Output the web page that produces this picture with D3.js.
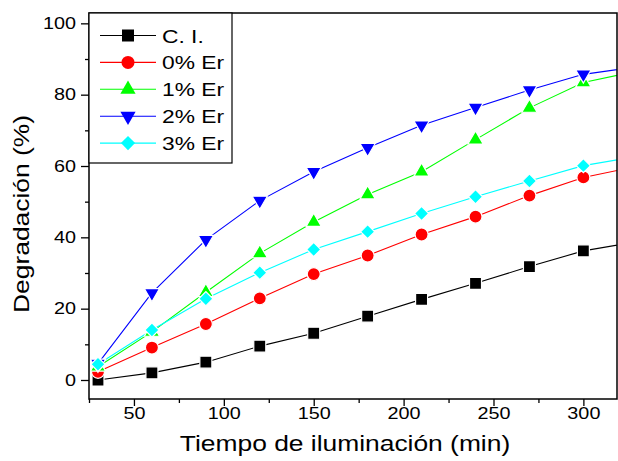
<!DOCTYPE html>
<html>
<head>
<meta charset="utf-8">
<script src="https://cdn.jsdelivr.net/npm/d3@7/dist/d3.min.js"></script>
<style>
  html, body { margin: 0; padding: 0; background: #fff; }
  svg { display: block; font-family: "Liberation Sans", Arial, sans-serif; }
</style>
</head>
<body>
<svg id="chart" width="618" height="461"></svg>
<script>
// Illumination time (min); the last sample lies just past the visible axis range
const tiempo = [30, 60, 90, 120, 150, 180, 210, 240, 270, 300, 330];

// Degradation (%) for each catalyst
const ci    = [0.0, 2.0, 5.0, 9.5, 13.1, 17.9, 22.6, 27.1, 31.8, 36.2, 38.8];
const er0   = [2.3, 9.1, 15.7, 22.9, 29.7, 34.9, 40.8, 45.8, 51.7, 56.8, 59.9];
const er1   = [3.7, 13.5, 24.6, 35.5, 44.3, 52.0, 58.4, 67.4, 76.3, 83.4, 86.6];
const er2   = [4.6, 24.4, 39.3, 50.3, 58.4, 65.1, 71.4, 76.4, 81.3, 85.7, 87.8];
const er3   = [4.4, 14.0, 22.8, 30.1, 36.6, 41.6, 46.7, 51.4, 55.8, 60.1, 62.7];

const seriesNames = ["C. I.", "0% Er", "1% Er", "2% Er", "3% Er"];
const xTicks = [50, 100, 150, 200, 250, 300];
const yTicks = [0, 20, 40, 60, 80, 100];

const series = [
  { name: seriesNames[0], values: ci,  color: "#000000", symbol: d3.symbolSquare,   size: 144, rot: 0 },
  { name: seriesNames[1], values: er0, color: "#ff0000", symbol: d3.symbolCircle,   size: 133, rot: 0 },
  { name: seriesNames[2], values: er1, color: "#00ff00", symbol: d3.symbolTriangle, size: 100, rot: 0 },
  { name: seriesNames[3], values: er2, color: "#0000ff", symbol: d3.symbolTriangle, size: 100, rot: 180 },
  { name: seriesNames[4], values: er3, color: "#00ffff", symbol: d3.symbolSquare,   size: 100, rot: 45 }
];

// Text in this figure is set in a horizontally widened sans face
const WIDE = 1.2;

const plot = { left: 89, right: 617, top: 13, bottom: 399 };

const x = d3.scaleLinear().domain([25, 318.7]).range([plot.left, plot.right]);
const y = d3.scaleLinear().domain([-5.33, 102.9]).range([plot.bottom, plot.top]);

const svg = d3.select("#chart");

svg.append("defs").append("clipPath").attr("id", "plotClip")
  .append("rect")
  .attr("x", plot.left).attr("y", plot.top)
  .attr("width", plot.right - plot.left).attr("height", plot.bottom - plot.top);

// Axes: major ticks with labels, minor ticks between them
const xMajor = d3.axisBottom(x).tickValues(xTicks).tickSize(7).tickSizeOuter(0).tickPadding(1);
const xMinor = d3.axisBottom(x).tickValues([25, 75, 125, 175, 225, 275]).tickSize(4).tickSizeOuter(0).tickFormat("");
const yMajor = d3.axisLeft(y).tickValues(yTicks).tickSize(8).tickSizeOuter(0).tickPadding(5);
const yMinor = d3.axisLeft(y).tickValues([10, 30, 50, 70, 90]).tickSize(4).tickSizeOuter(0).tickFormat("");

function styleAxis(g) {
  g.select(".domain").remove();
  g.selectAll("line").attr("stroke", "#000").attr("stroke-width", 1.3);
  g.selectAll("text").attr("fill", "#000").attr("font-size", 16.5)
    .attr("font-family", "'Liberation Sans', Arial, sans-serif");
}

svg.append("g").attr("transform", `translate(0,${plot.bottom})`).call(xMajor).call(styleAxis)
  .selectAll("text")
  .attr("transform", `scale(${WIDE},1)`);
svg.append("g").attr("transform", `translate(0,${plot.bottom})`).call(xMinor).call(styleAxis);
svg.append("g").attr("transform", `translate(${plot.left},0)`).call(yMajor).call(styleAxis)
  .selectAll("text")
  .attr("transform", function () {
    const tx = +d3.select(this).attr("x");
    return `translate(${tx},0) scale(${WIDE},1)`;
  })
  .attr("x", 0);
svg.append("g").attr("transform", `translate(${plot.left},0)`).call(yMinor).call(styleAxis);

// Data lines and markers
const lineGen = d3.line().x((d, i) => x(tiempo[i])).y(d => y(d));
const dataLayer = svg.append("g").attr("clip-path", "url(#plotClip)");

series.forEach(s => {
  dataLayer.append("path")
    .attr("d", lineGen(s.values))
    .attr("fill", "none")
    .attr("stroke", s.color)
    .attr("stroke-width", 1.1);
});

series.forEach(s => {
  const sym = d3.symbol().type(s.symbol).size(s.size);
  dataLayer.selectAll(null)
    .data(s.values)
    .join("path")
    .attr("d", sym)
    .attr("transform", (d, i) => `translate(${x(tiempo[i])},${y(d)}) rotate(${s.rot})`)
    .attr("fill", s.color)
    .attr("stroke", "#fff")
    .attr("stroke-width", 1.2);
});

// Frame
svg.append("rect")
  .attr("x", plot.left).attr("y", plot.top)
  .attr("width", plot.right - plot.left).attr("height", plot.bottom - plot.top)
  .attr("fill", "none").attr("stroke", "#000").attr("stroke-width", 1.5);

// Legend
const legend = svg.append("g");
legend.append("rect")
  .attr("x", plot.left).attr("y", plot.top)
  .attr("width", 232 - plot.left).attr("height", 163 - plot.top)
  .attr("fill", "#fff").attr("stroke", "#000").attr("stroke-width", 1.2);

series.forEach((s, i) => {
  const cy = 35.5 + i * 26.9;
  const row = legend.append("g");
  row.append("line")
    .attr("x1", 100).attr("x2", 156).attr("y1", cy).attr("y2", cy)
    .attr("stroke", s.color).attr("stroke-width", 1.1);
  row.append("path")
    .attr("d", d3.symbol().type(s.symbol).size(s.size)())
    .attr("transform", `translate(128,${cy}) rotate(${s.rot})`)
    .attr("fill", s.color);
  row.append("text")
    .attr("transform", `translate(162,${cy + 7}) scale(${WIDE},1)`)
    .attr("font-size", 19).attr("fill", "#000")
    .text(s.name);
});

// Axis titles
svg.append("text")
  .attr("transform", `translate(345,451) scale(${WIDE},1)`)
  .attr("text-anchor", "middle").attr("font-size", 22).attr("fill", "#000")
  .text("Tiempo de iluminación (min)");

svg.append("text")
  .attr("transform", `translate(29,214) rotate(-90) scale(${WIDE},1)`)
  .attr("text-anchor", "middle").attr("font-size", 22).attr("fill", "#000")
  .text("Degradación (%)");
</script>
</body>
</html>
